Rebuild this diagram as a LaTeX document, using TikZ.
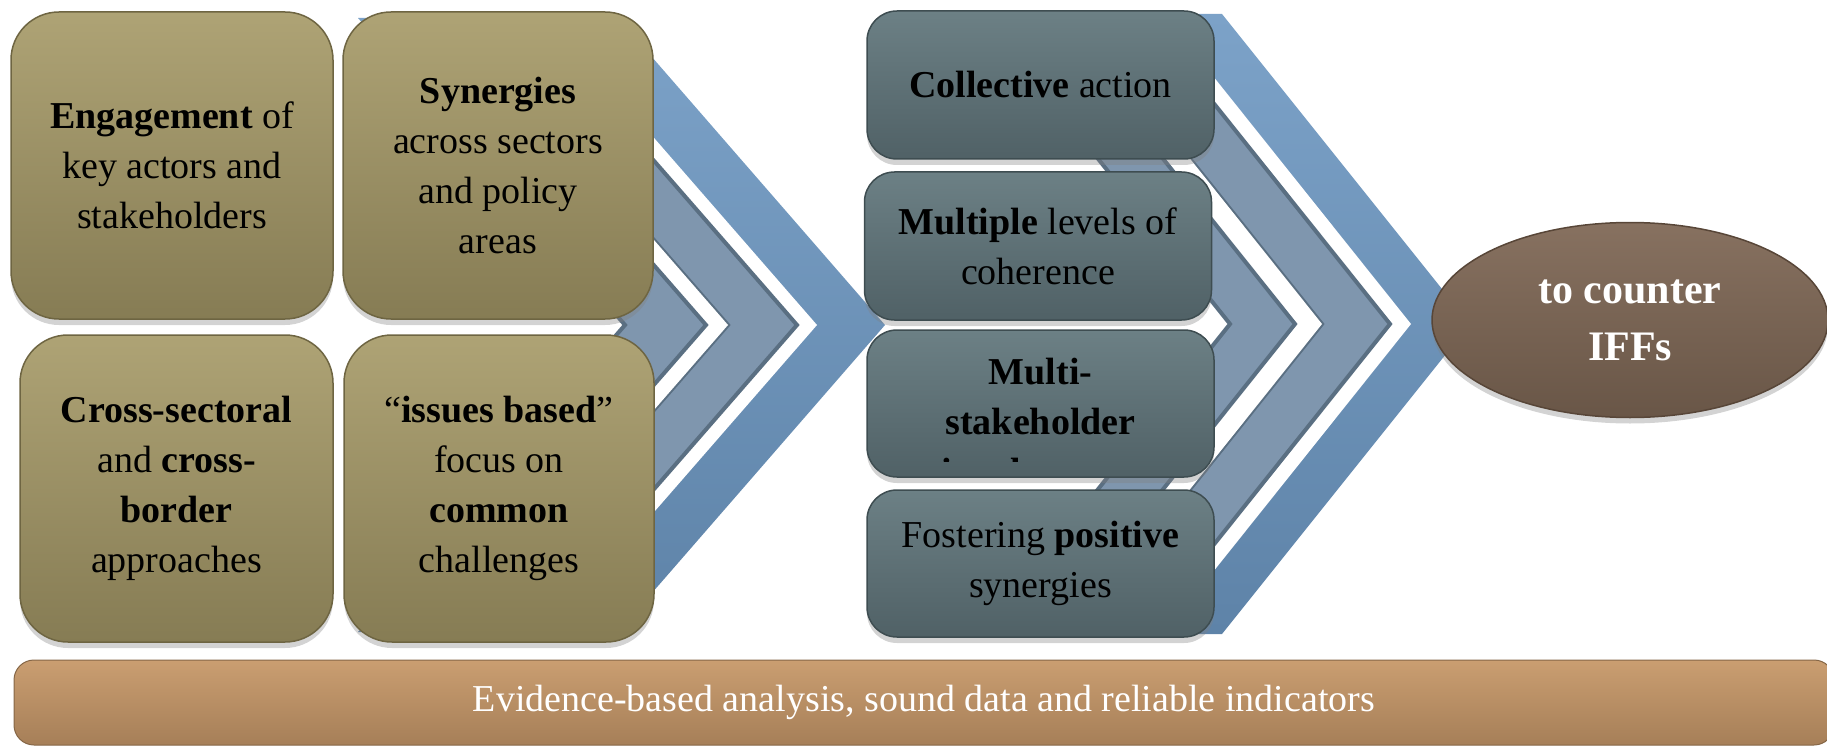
\documentclass[tikz,border=0pt]{standalone}
\usepackage{fontspec}
\setmainfont{Liberation Serif}
\usetikzlibrary{shapes.geometric,shadows}

\definecolor{oliveTop}{RGB}{174,163,117}
\definecolor{oliveBot}{RGB}{134,124,84}
\definecolor{oliveEdge}{RGB}{110,101,66}
\definecolor{slateTop}{RGB}{108,128,133}
\definecolor{slateBot}{RGB}{80,97,102}
\definecolor{slateEdge}{RGB}{62,77,81}
\definecolor{blueTop}{RGB}{124,162,200}
\definecolor{blueBot}{RGB}{94,131,168}
\definecolor{bandFill}{RGB}{127,150,174}
\definecolor{bandEdge}{RGB}{90,111,130}
\definecolor{brownTop}{RGB}{135,113,96}
\definecolor{brownBot}{RGB}{105,86,71}
\definecolor{brownEdge}{RGB}{88,70,56}
\definecolor{tanTop}{RGB}{202,158,113}
\definecolor{tanBot}{RGB}{166,127,88}

\begin{document}
\begin{tikzpicture}[x=1pt, y=-1pt,
  txt/.style={align=center, font=\fontsize{38}{50}\selectfont},
  olivebox/.style={txt, rounded corners=48pt, top color=oliveTop, bottom color=oliveBot,
    draw=oliveEdge, line width=1.5pt, inner sep=0pt, minimum height=307pt,
    drop shadow={shadow xshift=0pt, shadow yshift=-6pt, opacity=.35}},
  slatebox/.style={txt, rounded corners=30pt, top color=slateTop, bottom color=slateBot,
    draw=slateEdge, line width=1.5pt, inner sep=0pt, minimum width=347pt, minimum height=147pt,
    drop shadow={shadow xshift=0pt, shadow yshift=-6pt, opacity=.35}},
  gap/.style={fill=white},
  band/.style={fill=bandFill, draw=bandEdge, line width=4pt, line join=miter}]

  \clip (0,0) rectangle (1827,746);

  % left chevron
  \shade[top color=blueTop, bottom color=blueBot]
    (358,18) -- (618,18) -- (885,325) -- (618,632) -- (358,632) -- (625,325) -- cycle;
  \fill[gap] (560,30) -- (817,325) -- (560,620) -- (540,620) -- (797,325) -- (540,30) -- cycle;
  \filldraw[band] (540,30) -- (797,325) -- (540,620) -- (471,620) -- (728,325) -- (471,30) -- cycle;
  \fill[gap] (471,30) -- (728,325) -- (471,620) -- (449,620) -- (706,325) -- (449,30) -- cycle;
  \filldraw[band] (449,30) -- (706,325) -- (449,620) -- (368,620) -- (625,325) -- (368,30) -- cycle;

  % right chevron
  \shade[top color=blueTop, bottom color=blueBot]
    (982,14) -- (1222,14) -- (1470,324) -- (1222,634) -- (982,634) -- (1230,324) -- cycle;
  \fill[gap] (1173,26) -- (1411,324) -- (1173,622) -- (1152,622) -- (1390,324) -- (1152,26) -- cycle;
  \filldraw[band] (1152,26) -- (1390,324) -- (1152,622) -- (1084,622) -- (1322,324) -- (1084,26) -- cycle;
  \fill[gap] (1084,26) -- (1322,324) -- (1084,622) -- (1057,622) -- (1295,324) -- (1057,26) -- cycle;
  \filldraw[band] (1057,26) -- (1295,324) -- (1057,622) -- (992,622) -- (1230,324) -- (992,26) -- cycle;

  \node[olivebox, minimum width=322pt] (engage) at (172,165.5)
    {\textbf{Engagement} of\\key actors and\\stakeholders};
  \node[olivebox, minimum width=310pt] (synergy) at (498,165.5)
    {\textbf{Synergies}\\across sectors\\and policy\\areas};
  \node[olivebox, minimum width=313pt] (crossborder) at (176.5,488.5)
    {\textbf{Cross-sectoral}\\and \textbf{cross-}\\\textbf{border}\\approaches};
  \node[olivebox, minimum width=310pt] (issues) at (499,488.5)
    {“\textbf{issues based}”\\focus on\\\textbf{common}\\challenges};

  \node[slatebox, minimum height=148pt] (collective) at (1040.5,85) {\textbf{Collective} action};
  \node[slatebox, minimum height=148pt] (multiple) at (1038,246) {\textbf{Multiple} levels of\\coherence};
  \node[slatebox] (stake) at (1040.5,403.5) {};
  \begin{scope}
    \clip[rounded corners=30pt] (867,330) rectangle (1214,461);
    \node[txt] (staketext) at (1040.5,421) {\textbf{Multi-}\\\textbf{stakeholder}\\\textbf{involvement}};
  \end{scope}
  \node[slatebox] (fostering) at (1040.5,563.5) {Fostering \textbf{positive}\\synergies};

  \node[ellipse, minimum width=396pt, minimum height=195pt, inner sep=0pt,
    top color=brownTop, bottom color=brownBot, draw=brownEdge, line width=1.5pt,
    drop shadow={shadow xshift=0pt, shadow yshift=-6pt, opacity=.35},
    text=white, align=center, font=\bfseries\fontsize{42}{57}\selectfont] (counter) at (1630,320)
    {to counter\\IFFs};

  \node[rounded corners=20pt, minimum width=1820pt, minimum height=85pt, inner sep=0pt,
    top color=tanTop, bottom color=tanBot, draw=tanBot!80!black, line width=1pt,
    text=white, font=\fontsize{38}{46}\selectfont] (evidence) at (924,702.5)
    {Evidence-based analysis, sound data and reliable indicators};
\end{tikzpicture}
\end{document}
